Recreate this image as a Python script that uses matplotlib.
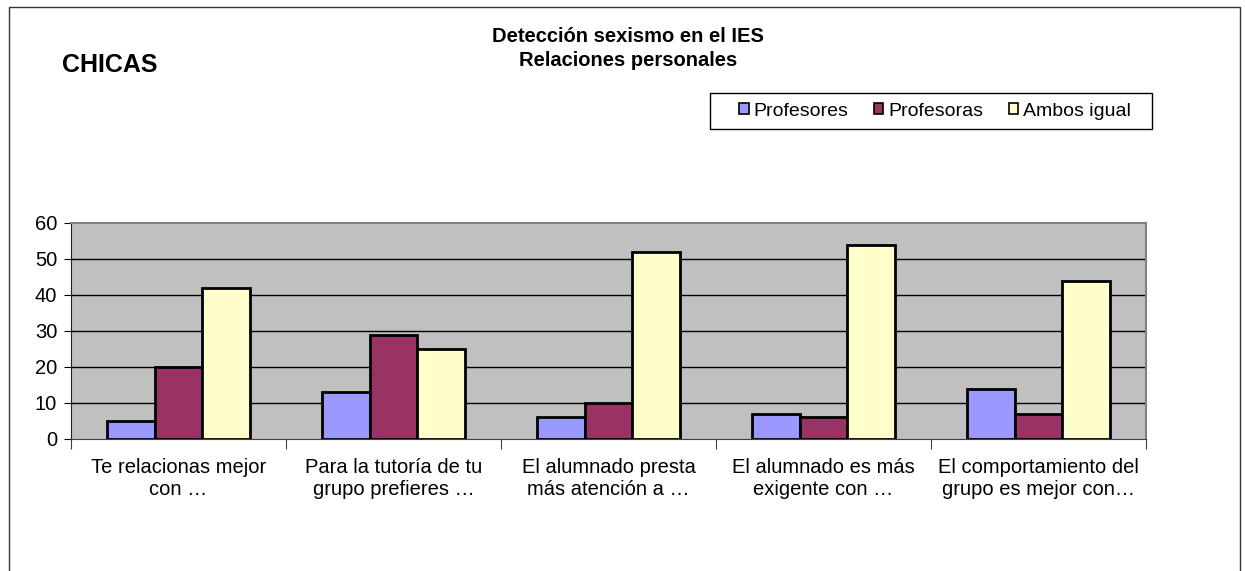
import matplotlib
matplotlib.use("Agg")
import matplotlib.pyplot as plt
import numpy as np
from matplotlib.patches import Rectangle, Patch

categories = ["Te relacionas mejor\ncon \u2026", "Para la tutoría de tu\ngrupo prefieres \u2026",
              "El alumnado presta\nmás atención a \u2026", "El alumnado es más\nexigente con \u2026",
              "El comportamiento del\ngrupo es mejor con\u2026"]
series_names = ["Profesores", "Profesoras", "Ambos igual"]
profesores = [5, 13, 6, 7, 14]
profesoras = [20, 29, 10, 6, 7]
ambos = [42, 25, 52, 54, 44]
colors = ["#9999FF", "#993366", "#FFFFCC"]

plt.rcParams['font.family'] = ['Liberation Sans', 'DejaVu Sans']

W, H = 1245, 571
fig = plt.figure(figsize=(W / 100, H / 100), dpi=100)
ax = fig.add_axes([71 / W, 1 - 439 / H, (1146 - 71) / W, (439 - 223) / H])
ax.set_facecolor("#C0C0C0")

n = len(categories)
x = np.arange(n)
bw = 1 / 4.5
for i, (vals, c) in enumerate(zip([profesores, profesoras, ambos], colors)):
    ax.bar(x + (i - 1) * bw, vals, width=bw, color=c, edgecolor="black", linewidth=2.0,
           label=series_names[i], zorder=3)

ax.set_xlim(-0.5, n - 0.5)
ax.set_ylim(0, 60)
ax.set_yticks(range(0, 61, 10))
for yv in range(10, 60, 10):
    ax.axhline(yv, color="black", linewidth=1, zorder=1)

ax.set_xticks(np.arange(-0.5, n, 1.0))
ax.set_xticklabels([])
ax.set_xticks(x, minor=True)
ax.set_xticklabels(categories, minor=True, fontsize=14.5)
ax.tick_params(axis="x", which="minor", length=0, pad=14)
ax.tick_params(axis="x", which="major", length=7, direction="out", color="#404040")
ax.tick_params(axis="y", length=5, direction="out", labelsize=14.5, pad=5)

for s in ["top", "right"]:
    ax.spines[s].set_color("#808080")
    ax.spines[s].set_linewidth(1.5)
ax.spines["left"].set_color("#202020")
ax.spines["bottom"].set_color("#404040")

fig.text(628 / W, 1 - 36 / H, "Detección sexismo en el IES", ha="center", va="center",
         fontsize=14.5, fontweight="bold")
fig.text(628 / W, 1 - 60 / H, "Relaciones personales", ha="center", va="center",
         fontsize=14.5, fontweight="bold")
fig.text(62 / W, 1 - 65 / H, "CHICAS", ha="left", va="center", fontsize=18, fontweight="bold")

handles = [Patch(facecolor=c, edgecolor="black", linewidth=1.2) for c in colors]
leg = fig.legend(handles, series_names, loc="center", bbox_to_anchor=(935 / W, 1 - 111 / H),
                 ncol=3, fontsize=14, frameon=False, handlelength=0.5,
                 handleheight=0.5, handletextpad=0.25, columnspacing=1.3, borderpad=0.5)
fig.patches.append(Rectangle((710 / W, 1 - 129 / H), (1152 - 710) / W, 36 / H,
                             transform=fig.transFigure, fill=False, edgecolor="black", linewidth=1))

fig.patches.append(Rectangle((9 / W, -0.1), (1240 - 9) / W, 1.1 - 7 / H, transform=fig.transFigure,
                             fill=False, edgecolor="#333333", linewidth=1))

fig.savefig("out.png", dpi=100)
